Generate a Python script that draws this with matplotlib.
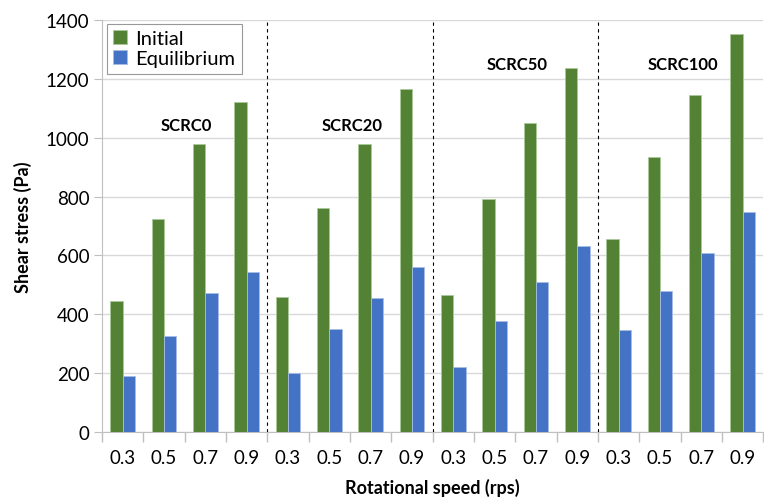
import numpy as np
from matplotlib import pyplot as plt
from matplotlib.ticker import FixedLocator, NullFormatter

speeds = ['0.3', '0.5', '0.7', '0.9']
mixes = ['SCRC0', 'SCRC20', 'SCRC50', 'SCRC100']
initial = [445, 723, 980, 1120,
           460, 760, 980, 1165,
           467, 793, 1050, 1237,
           655, 935, 1145, 1352]
equilibrium = [190, 325, 472, 545,
               200, 350, 457, 560,
               222, 377, 510, 632,
               347, 480, 610, 748]
label_y = [1043, 1043, 1250, 1250]

plt.rcParams['font.family'] = ['Lato', 'DejaVu Sans']

n = len(initial)
x = np.arange(n)
w = 0.3

fig = plt.figure(figsize=(7.64, 5.02), dpi=100)
ax = fig.add_axes([0.1335, 0.1375, 0.8655, 0.8205])

ax.bar(x - w/2, initial, width=w, color='#548235', edgecolor='#a9c99a', linewidth=0.6, label='Initial', zorder=3)
ax.bar(x + w/2, equilibrium, width=w, color='#4472C4', edgecolor='#a8bde6', linewidth=0.6, label='Equilibrium', zorder=3)

# group separators and labels
for k in range(1, len(mixes)):
    ax.plot([4*k - 0.5, 4*k - 0.5], [0, 1400], color='black', linestyle=(0, (3, 3)), linewidth=0.8, zorder=4)
for k, name in enumerate(mixes):
    ax.text(4*k + 1.55, label_y[k], name, ha='center', va='center', fontsize=12, fontweight='bold')

ax.set_xlim(-0.5, n - 0.5)
ax.set_ylim(0, 1400)
ax.set_yticks(range(0, 1401, 200))
ax.xaxis.set_major_locator(FixedLocator(np.arange(-0.5, n, 1)))
ax.xaxis.set_major_formatter(NullFormatter())
ax.xaxis.set_minor_locator(FixedLocator(x))
ax.set_xticklabels(speeds * 4, minor=True)
ax.tick_params(axis='x', which='major', length=7, color='#bfbfbf', width=1)
ax.tick_params(axis='x', which='minor', length=0, labelsize=13.5, pad=12)
ax.tick_params(axis='y', length=6, color='#bfbfbf', labelsize=13.5, pad=3)

ax.grid(axis='y', color='#d9d9d9', linewidth=1, zorder=0)
ax.axhline(1400, color='#a6a6a6', linewidth=1.2, zorder=1)
for s in ['top', 'right']:
    ax.spines[s].set_visible(False)
ax.spines['left'].set_color('#bfbfbf')
ax.spines['bottom'].set_color('#bfbfbf')

ax.set_xlabel('Rotational speed (rps)', fontsize=13, fontweight='bold', labelpad=9)
ax.set_ylabel('Shear stress (Pa)', fontsize=13, fontweight='bold', labelpad=10)

leg = ax.legend(loc='upper left', bbox_to_anchor=(0.008, 0.99), fontsize=14.5, frameon=True, fancybox=False,
                handlelength=0.7, handleheight=0.7, handletextpad=0.4, borderpad=0.3, labelspacing=0.15,
                borderaxespad=0)
leg.get_frame().set_edgecolor('#7f7f7f')
leg.get_frame().set_linewidth(0.8)

plt.savefig('out.png', dpi=100)
